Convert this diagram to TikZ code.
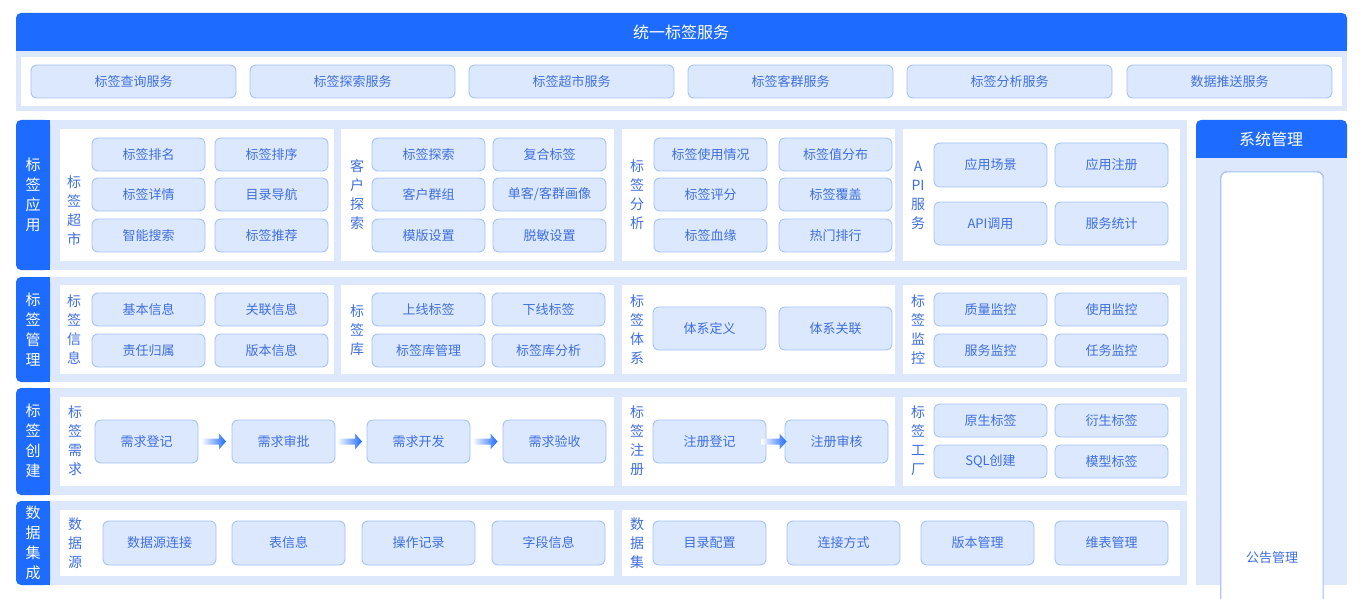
\documentclass[tikz,border=0pt]{standalone}
\usepackage{fontspec}
\setmainfont{Noto Sans CJK SC}
\definecolor{mblue}{HTML}{1E6BFF}
\definecolor{lbg}{HTML}{DDE8FD}
\definecolor{bfill}{HTML}{DCE8FD}
\definecolor{bline}{HTML}{A6C3F8}
\definecolor{btext}{HTML}{3F6FDF}
\newcommand\bx[7][box]{\node[#1,minimum width={(#5-#3)*1pt},minimum height={(#6-#4)*1pt}] (#2) at ({(#3+#5)/2},{(#4+#6)/2}) {#7};}
\newcommand\rg[6][lbg]{\fill[#1] (#3,#4) rectangle (#5,#6) coordinate (#2);}
\begin{document}
\begin{tikzpicture}[x=1pt,y=-1pt,
 box/.style={draw=bline,fill=bfill,rounded corners=6pt,line width=0.9pt,inner sep=0pt,text=btext,font=\fontsize{13}{13}\selectfont},
 wbox/.style={box,fill=white},
 vlab/.style={text=btext,align=center,font=\fontsize{14}{19}\selectfont,inner sep=0pt},
 slab/.style={text=white,align=center,font=\fontsize{15}{20}\selectfont,inner sep=0pt},
 flow/.style={left color=white,right color=mblue,draw=none}]
\useasboundingbox (0,0) rectangle (1363,599);
\fill[white] (0,0) rectangle (1363,599);
% top
\fill[lbg] (16,45) rectangle (1347,111);
\fill[mblue,rounded corners=5pt] (16,13) rectangle (1347,51);
\fill[mblue] (16,40) rectangle (1347,51);
\node[text=white,font=\fontsize{16}{16}\selectfont] (top) at (681,32) {统一标签服务};
\fill[white] (21,57) rectangle (1342,106);
\bx{s1}{31}{65}{236}{98}{标签查询服务}
\bx{s2}{250}{65}{455}{98}{标签探索服务}
\bx{s3}{469}{65}{674}{98}{标签超市服务}
\bx{s4}{688}{65}{893}{98}{标签客群服务}
\bx{s5}{907}{65}{1112}{98}{标签分析服务}
\bx{s6}{1127}{65}{1332}{98}{数据推送服务}
% row backgrounds and strips
\foreach \a/\b in {120/270,277/382,388/495,501/585}{
 \fill[lbg] (40,\a) rectangle (1187,\b);
 \fill[mblue,rounded corners=5pt] (16,\a) rectangle (50,\b);
 \fill[mblue] (40,\a) rectangle (50,\b);}
\node[slab] (L1) at (33,195) {标\\签\\应\\用};
\node[slab] (L2) at (33,330) {标\\签\\管\\理};
\node[slab] (L3) at (33,441) {标\\签\\创\\建};
\node[slab] (L4) at (33,543) {数\\据\\集\\成};
% white panels
\foreach \x/\y in {60/334,341/614,622/895,903/1180}{
 \fill[white] (\x,129) rectangle (\y,261);
 \fill[white] (\x,285) rectangle (\y,374);}
\fill[white] (60,397) rectangle (614,486);
\fill[white] (622,397) rectangle (895,486);
\fill[white] (903,397) rectangle (1180,486);
\fill[white] (60,510) rectangle (614,576);
\fill[white] (622,510) rectangle (1180,576);
% row 1
\node[vlab] (p11) at (74,211) {标\\签\\超\\市};
\bx{a1}{92}{138}{205}{171}{标签排名}\bx{a2}{215}{138}{328}{171}{标签排序}
\bx{a3}{92}{178}{205}{211}{标签详情}\bx{a4}{215}{178}{328}{211}{目录导航}
\bx{a5}{92}{219}{205}{252}{智能搜索}\bx{a6}{215}{219}{328}{252}{标签推荐}
\node[vlab] (p12) at (357,195) {客\\户\\探\\索};
\bx{b1}{372}{138}{485}{171}{标签探索}\bx{b2}{493}{138}{606}{171}{复合标签}
\bx{b3}{372}{178}{485}{211}{客户群组}\bx{b4}{493}{178}{606}{211}{单客/客群画像}
\bx{b5}{372}{219}{485}{252}{模版设置}\bx{b6}{493}{219}{606}{252}{脱敏设置}
\node[vlab] (p13) at (637,195) {标\\签\\分\\析};
\bx{c1}{654}{138}{767}{171}{标签使用情况}\bx{c2}{779}{138}{892}{171}{标签值分布}
\bx{c3}{654}{178}{767}{211}{标签评分}\bx{c4}{779}{178}{892}{211}{标签覆盖}
\bx{c5}{654}{219}{767}{252}{标签血缘}\bx{c6}{779}{219}{892}{252}{热门排行}
\node[vlab] (p14) at (918,195) {A\\PI\\服\\务};
\bx{d1}{934}{143}{1047}{187}{应用场景}\bx{d2}{1055}{143}{1168}{187}{应用注册}
\bx{d3}{934}{202}{1047}{245}{API调用}\bx{d4}{1055}{202}{1168}{245}{服务统计}
% row 2
\node[vlab] (p21) at (74,330) {标\\签\\信\\息};
\bx{e1}{92}{293}{205}{326}{基本信息}\bx{e2}{215}{293}{328}{326}{关联信息}
\bx{e3}{92}{334}{205}{367}{责任归属}\bx{e4}{215}{334}{328}{367}{版本信息}
\node[vlab] (p22) at (357,330) {标\\签\\库};
\bx{f1}{372}{293}{485}{326}{上线标签}\bx{f2}{492}{293}{605}{326}{下线标签}
\bx{f3}{372}{334}{485}{367}{标签库管理}\bx{f4}{492}{334}{605}{367}{标签库分析}
\node[vlab] (p23) at (637,330) {标\\签\\体\\系};
\bx{g1}{653}{307}{766}{350}{体系定义}\bx{g2}{779}{307}{892}{350}{体系关联}
\node[vlab] (p24) at (918,330) {标\\签\\监\\控};
\bx{h1}{934}{293}{1047}{326}{质量监控}\bx{h2}{1055}{293}{1168}{326}{使用监控}
\bx{h3}{934}{334}{1047}{367}{服务监控}\bx{h4}{1055}{334}{1168}{367}{任务监控}
% row 3
\node[vlab] (p31) at (75,441) {标\\签\\需\\求};
\bx{i1}{95}{420}{198}{463}{需求登记}\bx{i2}{232}{420}{335}{463}{需求审批}
\bx{i3}{367}{420}{470}{463}{需求开发}\bx{i4}{503}{420}{606}{463}{需求验收}
\node[vlab] (p32) at (637,441) {标\\签\\注\\册};
\bx{j1}{653}{420}{766}{463}{注册登记}\bx{j2}{785}{420}{888}{463}{注册审核}
\foreach \s/\t in {i1/i2,i2/i3,i3/i4,j1/j2}{
 \path (\s.east) -- (\t.west) coordinate[pos=0.5] (m\s);
 \shade[flow] ([xshift=-14pt,yshift=-3pt]m\s) -- ([xshift=4pt,yshift=-3pt]m\s) -- ([xshift=4pt,yshift=-8pt]m\s) -- ([xshift=11pt]m\s) -- ([xshift=4pt,yshift=8pt]m\s) -- ([xshift=4pt,yshift=3pt]m\s) -- ([xshift=-14pt,yshift=3pt]m\s) -- cycle;}
\node[vlab] (p33) at (918,441) {标\\签\\工\\厂};
\bx{k1}{934}{404}{1047}{437}{原生标签}\bx{k2}{1055}{404}{1168}{437}{衍生标签}
\bx{k3}{934}{445}{1047}{478}{SQL创建}\bx{k4}{1055}{445}{1168}{478}{模型标签}
% row 4
\node[vlab] (p41) at (75,543) {数\\据\\源};
\bx{l1}{103}{521}{216}{565}{数据源连接}\bx{l2}{232}{521}{345}{565}{表信息}
\bx{l3}{362}{521}{475}{565}{操作记录}\bx{l4}{492}{521}{605}{565}{字段信息}
\node[vlab] (p42) at (637,543) {数\\据\\集};
\bx{n1}{653}{521}{766}{565}{目录配置}\bx{n2}{787}{521}{900}{565}{连接方式}
\bx{n3}{921}{521}{1034}{565}{版本管理}\bx{n4}{1055}{521}{1168}{565}{维表管理}
% system management
\fill[lbg] (1196,150) rectangle (1347,585);
\fill[mblue,rounded corners=5pt] (1196,120) rectangle (1347,158);
\fill[mblue] (1196,150) rectangle (1347,158);
\node[text=white,font=\fontsize{16}{16}\selectfont] (sys) at (1271,139) {系统管理};
\foreach \t [count=\i from 0] in {机构管理,角色管理,用户管理,职位管理,条线管理,流程管理,配置管理,公告管理}{
 \bx[wbox]{sm\i}{1221}{172+52.7*\i}{1323}{205+52.7*\i}{\t}}
\end{tikzpicture}
\end{document}
